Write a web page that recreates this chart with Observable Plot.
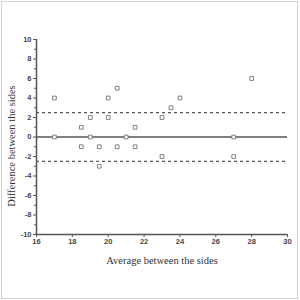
<!DOCTYPE html>
<html>
<head>
<meta charset="utf-8">
<script src="https://cdn.jsdelivr.net/npm/d3@7"></script>
<script src="https://cdn.jsdelivr.net/npm/@observablehq/plot@0.6"></script>
<style>
  html, body { margin: 0; padding: 0; background: #fff; }
  #wrap { position: relative; width: 300px; height: 300px; overflow: hidden; }
  #wrap svg { position: absolute; left: 0; top: 0; }
  #border { position: absolute; left: 1px; top: 1px; width: 295px; height: 296px; border: 1px solid #d0d0d0; pointer-events: none; z-index: 2; }
</style>
</head>
<body>
<div id="wrap"><div id="border"></div></div>
<script>
// Bland-Altman style data
const averages    = [17, 17, 18.5, 18.5, 19, 19, 19.5, 19.5, 20, 20, 20.5, 20.5, 21, 21.5, 21.5, 23, 23, 23.5, 24, 27, 27, 28];
const differences = [4, 0, 1, -1, 2, 0, -1, -3, 4, 2, 5, -1, 0, 1, -1, 2, -2, 3, 4, 0, -2, 6];
const biasLine = [0];
const limitLines = [2.5, -2.5];
const xTicks = [16, 18, 20, 22, 24, 26, 28, 30];
const yTicks = [-10, -8, -6, -4, -2, 0, 2, 4, 6, 8, 10];
const yMinorTicks = [-9, -7, -5, -3, -1, 1, 3, 5, 7, 9];
const xLabel = "Average between the sides";
const yLabel = "Difference between the sides";

const points = averages.map((a, i) => ({avg: a, diff: differences[i]}));

const axisColor = "#555";
const sans = "'Liberation Sans', Arial, sans-serif";
const serif = "'Liberation Serif', 'Times New Roman', serif";

const chart = Plot.plot({
  width: 300,
  height: 300,
  marginLeft: 36,
  marginRight: 13,
  marginTop: 39,
  marginBottom: 66,
  style: {background: "white", overflow: "visible"},
  x: {domain: [16, 30]},
  y: {domain: [-10, 10]},
  marks: [
    Plot.axisX(xTicks, {tickSize: 3, tickPadding: 1, tickFormat: d => String(d), label: null, stroke: axisColor, fill: "#444", fontSize: 7.5, fontWeight: "bold", fontFamily: sans}),
    Plot.axisY(yTicks, {tickSize: 3, tickPadding: 2, tickFormat: d => String(d), label: null, stroke: axisColor, fill: "#444", fontSize: 7.5, fontWeight: "bold", fontFamily: sans}),
    Plot.axisY(yMinorTicks, {tickSize: 2, tickFormat: () => "", label: null, stroke: axisColor}),
    Plot.ruleX([16], {stroke: axisColor, strokeWidth: 1.5}),
    Plot.ruleY([-10], {stroke: axisColor, strokeWidth: 1.5}),
    Plot.ruleY(limitLines, {stroke: "#555", strokeWidth: 1.3, strokeDasharray: "3,3"}),
    Plot.ruleY(biasLine, {stroke: "#555", strokeWidth: 1.5}),
    Plot.dot(points, {x: "avg", y: "diff", symbol: "square", r: 2.1, stroke: "#808080", strokeWidth: 1, fill: "white"}),
    Plot.text([xLabel], {frameAnchor: "bottom", textAnchor: "middle", dy: 29, fontSize: 10.5, fontFamily: serif, fill: "#333"}),
    Plot.text([yLabel], {frameAnchor: "left", textAnchor: "middle", dx: -25, dy: 9, rotate: -90, fontSize: 10.5, fontFamily: serif, fill: "#333"})
  ]
});
document.getElementById("wrap").appendChild(chart);
</script>
</body>
</html>
